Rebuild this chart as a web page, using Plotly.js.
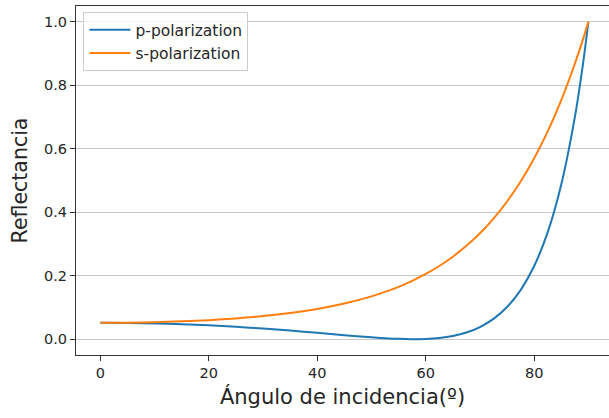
<!DOCTYPE html>
<html>
<head>
<meta charset="utf-8">
<script src="https://cdn.plot.ly/plotly-3.0.1.min.js"></script>
<style>
  html, body { margin: 0; padding: 0; background: #ffffff; }
  #chart { width: 609px; height: 418px; }
</style>
</head>
<body>
<div id="chart"></div>
<script>
// Angle of incidence in degrees
const angles = [0, 5, 10, 15, 20, 25, 30, 35, 40, 45, 50, 52.5, 55, 57.5, 60, 62.5,
                65, 67.5, 70, 72.5, 75, 77.5, 80, 82.5, 85, 87.5, 89, 90];

// Reflectance for p-polarized light
const reflP = [0.0513, 0.0509, 0.0494, 0.0469, 0.0434, 0.0389, 0.0334, 0.0270, 0.0200,
               0.0126, 0.0058, 0.0030, 0.0009, 0.0000, 0.0008, 0.0038, 0.0102, 0.0210,
               0.0381, 0.0637, 0.1011, 0.1546, 0.2304, 0.3373, 0.4876, 0.6996, 0.8670, 1.0];

// Reflectance for s-polarized light
const reflS = [0.0513, 0.0519, 0.0534, 0.0560, 0.0599, 0.0653, 0.0727, 0.0824, 0.0952,
               0.1123, 0.1348, 0.1488, 0.1649, 0.1837, 0.2054, 0.2306, 0.2599, 0.2940,
               0.3337, 0.3800, 0.4339, 0.4967, 0.5698, 0.6549, 0.7535, 0.8679, 0.9449, 1.0];

const seriesNames = ['p-polarization', 's-polarization'];
const xTicks = [0, 20, 40, 60, 80];
const yTicks = [0.0, 0.2, 0.4, 0.6, 0.8, 1.0];
const yTickText = ['0.0', '0.2', '0.4', '0.6', '0.8', '1.0'];

const fontFamily = 'DejaVu Sans, sans-serif';
const textColor = '#262626';

const traces = [
  {
    x: angles, y: reflP, name: seriesNames[0], type: 'scatter', mode: 'lines',
    line: { color: '#1f77b4', width: 2, shape: 'spline', smoothing: 0.8 }
  },
  {
    x: angles, y: reflS, name: seriesNames[1], type: 'scatter', mode: 'lines',
    line: { color: '#ff7f0e', width: 2, shape: 'spline', smoothing: 0.8 }
  }
];

const layout = {
  width: 609, height: 418,
  margin: { l: 76, r: 0, t: 6, b: 63 },
  paper_bgcolor: '#ffffff', plot_bgcolor: '#ffffff',
  font: { family: fontFamily, color: textColor, size: 15 },
  showlegend: true,
  legend: {
    x: 0.014, y: 0.982, xanchor: 'left', yanchor: 'top',
    itemwidth: 41,
    bgcolor: 'rgba(255,255,255,0.8)', bordercolor: '#cccccc', borderwidth: 1,
    font: { family: fontFamily, size: 15.5, color: textColor }
  },
  xaxis: {
    range: [-4.5, 93.8],
    tickvals: xTicks, ticktext: xTicks.map(String),
    ticks: 'outside', ticklen: 5, tickwidth: 1, tickcolor: '#333333',
    showgrid: false, zeroline: false,
    showline: true, linecolor: '#333333', linewidth: 1, mirror: true,
    tickfont: { family: fontFamily, size: 14.5, color: textColor },
    title: { text: 'Ángulo de incidencia(º)', font: { family: fontFamily, size: 21, color: textColor }, standoff: 8 }
  },
  yaxis: {
    range: [-0.05, 1.05],
    tickvals: yTicks, ticktext: yTickText,
    ticks: 'outside', ticklen: 5, tickwidth: 1, tickcolor: '#333333',
    showgrid: true, gridcolor: '#c8c8c8', gridwidth: 1, zeroline: false,
    showline: true, linecolor: '#333333', linewidth: 1, mirror: false,
    tickfont: { family: fontFamily, size: 14.5, color: textColor },
    title: { text: 'Reflectancia', font: { family: fontFamily, size: 20.5, color: textColor }, standoff: 10 }
  }
};

Plotly.newPlot('chart', traces, layout, { staticPlot: true, displayModeBar: false });
</script>
</body>
</html>
